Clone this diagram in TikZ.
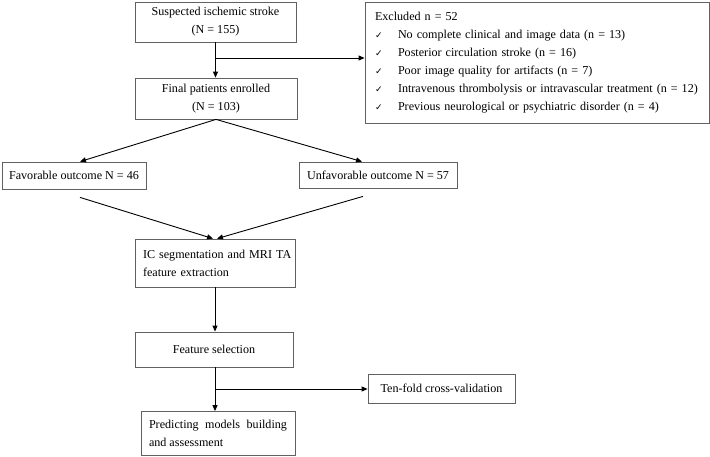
\documentclass[tikz,border=0pt]{standalone}
\usepackage{fontspec}
\setmainfont{Liberation Serif}
\newfontfamily\ckfont{DejaVu Sans}
\usetikzlibrary{arrows.meta}
\newcommand{\ckm}{\makebox[23pt][l]{\ckfont\fontsize{9}{9}\selectfont ✓}}
\begin{document}
\begin{tikzpicture}[x=1pt,y=-1pt,
  box/.style={draw=black!62, line width=0.8pt, inner sep=0pt, font=\fontsize{12.1}{18}\selectfont},
  arr/.style={draw=black, line width=0.9pt, -{Triangle[length=6pt,width=5pt]}},
  ln/.style={draw=black, line width=0.9pt}]
\useasboundingbox (0,0) rectangle (710,456);
\node[box, minimum width=161pt, minimum height=40pt, align=center] (sus) at (215.5,22)
  {Suspected ischemic stroke\\(N = 155)};
\node[box, minimum width=162pt, minimum height=41pt, align=center] (fin) at (216,98.5)
  {Final patients enrolled\\(N = 103)};
\node[box, minimum width=344pt, minimum height=121pt, text width=324pt, align=left, inner xsep=10pt] (exc) at (537,62.5)
  {Excluded n = 52\\
   \ckm No complete clinical and image data (n = 13)\\
   \ckm Posterior circulation stroke (n = 16)\\
   \ckm Poor image quality for artifacts (n = 7)\\
   \ckm Intravenous thrombolysis or intravascular treatment (n = 12)\\
   \ckm Previous neurological or psychiatric disorder (n = 4)};
\node[box, minimum width=144pt, minimum height=27pt] (fav) at (74,175.5) {Favorable outcome N = 46};
\node[box, minimum width=158pt, minimum height=26pt] (unf) at (378,175) {Unfavorable outcome N = 57};
\node[box, minimum width=160pt, minimum height=48pt, text width=160pt, align=left] (ic) at (215,263)
  {\hspace*{8pt}IC segmentation and MRI TA\\\hspace*{8pt}feature extraction};
\node[box, minimum width=158pt, minimum height=35pt] (fs) at (214,349.5) {Feature selection};
\node[box, minimum width=147pt, minimum height=29pt] (tf) at (441.5,388.5) {Ten-fold cross-validation};
\node[box, minimum width=154pt, minimum height=44pt, text width=138pt, inner xsep=8pt, align=justify] (pm) at (218,433.5)
  {Predicting models building and assessment};
\coordinate (b1) at (216,58);
\coordinate (b2) at (215,389);
\draw[arr] (sus.south) -- (sus.south |- fin.north);
\draw[arr] (b1) -- (b1 -| exc.west);
\draw[arr] (fin.south) -- ([xshift=6pt]fav.north);
\draw[arr] (fin.south) -- ([xshift=-16pt]unf.north);
\draw[arr] ([xshift=6pt,yshift=-8pt]fav.south) -- ([xshift=-2pt]ic.north);
\draw[arr] ([xshift=-15pt,yshift=-8pt]unf.south) -- ([xshift=2pt]ic.north);
\draw[arr] (ic.south) -- (ic.south |- fs.north);
\draw[arr] ([xshift=1pt]fs.south) -- ([xshift=1pt]fs.south |- pm.north);
\draw[arr] (b2) -- (b2 -| tf.west);
\end{tikzpicture}
\end{document}
